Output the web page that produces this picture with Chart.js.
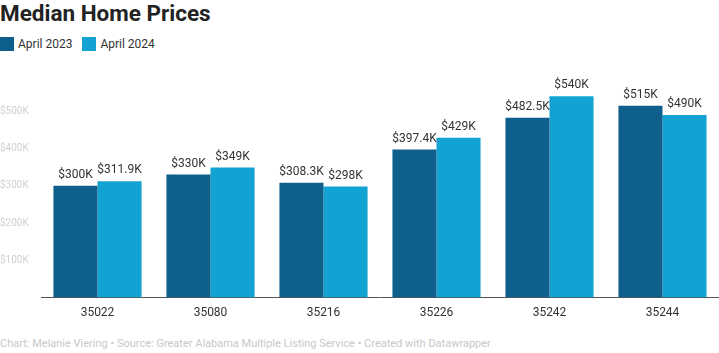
<!DOCTYPE html>
<html>
<head>
<meta charset="utf-8">
<script src="https://cdn.jsdelivr.net/npm/chart.js@4"></script>
<style>
  html, body { margin: 0; padding: 0; background: #fff; }
  body { width: 719px; height: 353px; position: relative; overflow: hidden; font-family: Roboto, "Noto Sans", sans-serif; }
  #title { position: absolute; left: 0; top: 0; font-size: 22.5px; font-weight: 700; color: #222; line-height: 26px; }
  #legend { position: absolute; left: 0; top: 36px; font-size: 12px; color: #333; line-height: 16px; display: flex; }
  .item { display: flex; align-items: center; margin-right: 10px; }
  .sw { width: 14px; height: 14px; margin-right: 4px; }
  #wrap { position: absolute; left: 0; top: 65px; width: 719px; height: 255px; }
  #footer { position: absolute; left: 0; top: 337px; font-size: 11px; color: #c8c8c8; line-height: 14px; white-space: nowrap; }
</style>
</head>
<body>
<div id="title">Median Home Prices</div>
<div id="legend"></div>
<div id="wrap"><canvas id="chart"></canvas></div>
<div id="footer">Chart: Melanie Viering • Source: Greater Alabama Multiple Listing Service • Created with Datawrapper</div>
<script>
const zipCodes = ["35022", "35080", "35216", "35226", "35242", "35244"];
const april2023 = [300000, 330000, 308300, 397400, 482500, 515000];
const april2024 = [311900, 349000, 298000, 429000, 540000, 490000];
const seriesNames = ["April 2023", "April 2024"];
const COLORS = ["#0e5f8c", "#13a3d3"];

function fmtK(v) {
  const k = v / 1000;
  return "$" + (Number.isInteger(k) ? k : k.toFixed(1)) + "K";
}

// legend in html, like datawrapper
const legend = document.getElementById("legend");
seriesNames.forEach((name, i) => {
  const el = document.createElement("div");
  el.className = "item";
  el.innerHTML = `<span class="sw" style="background:${COLORS[i]}"></span>${name}`;
  legend.appendChild(el);
});

const valueLabels = {
  id: "valueLabels",
  afterDatasetsDraw(chart) {
    const { ctx } = chart;
    ctx.save();
    ctx.font = "12px Roboto, sans-serif";
    ctx.fillStyle = "#333";
    ctx.textAlign = "center";
    ctx.textBaseline = "bottom";
    chart.data.datasets.forEach((ds, di) => {
      chart.getDatasetMeta(di).data.forEach((bar, i) => {
        ctx.fillText(fmtK(ds.data[i]), bar.x, bar.y - 5);
      });
    });
    ctx.restore();
  },
};

new Chart(document.getElementById("chart"), {
  type: "bar",
  data: {
    labels: zipCodes,
    datasets: [
      { label: seriesNames[0], data: april2023, backgroundColor: COLORS[0] },
      { label: seriesNames[1], data: april2024, backgroundColor: COLORS[1] },
    ],
  },
  options: {
    responsive: true,
    maintainAspectRatio: false,
    animation: false,
    layout: { padding: { top: 5, right: 0, left: 0, bottom: 0 } },
    datasets: { bar: { categoryPercentage: 0.78, barPercentage: 1 } },
    plugins: { legend: { display: false }, tooltip: { enabled: false } },
    scales: {
      x: {
        grid: { display: false },
        border: { color: "#555", width: 1 },
        ticks: { color: "#333", font: { size: 12, family: "Roboto" }, padding: 0 },
      },
      y: {
        min: 0,
        max: 600000,
        afterFit: s => { s.width = 41; },
        grid: { display: false },
        border: { display: false },
        ticks: {
          stepSize: 100000,
          crossAlign: "far",
          color: "#d0d0d0",
          font: { size: 10, family: "Roboto" },
          callback: v => (v === 0 || v === 600000 ? "" : fmtK(v)),
        },
      },
    },
  },
  plugins: [valueLabels],
});
</script>
</body>
</html>
